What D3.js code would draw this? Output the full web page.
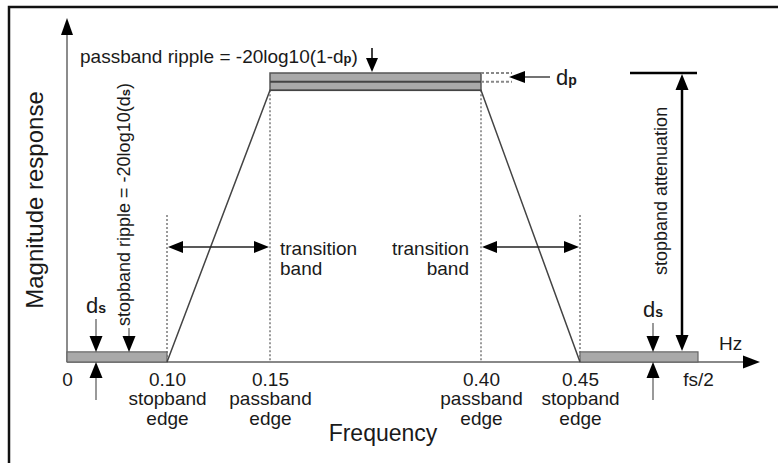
<!DOCTYPE html>
<html><head><meta charset="utf-8">
<script src="https://cdn.jsdelivr.net/npm/d3@7"></script>
<style>
body{margin:0;background:#fff}
text{font-family:"Liberation Sans",Arial,Helvetica,sans-serif;fill:#1a1a1a}
</style>
</head><body>
<svg id="chart" width="778" height="463"></svg>
<script>
// ---- data ----
const freqTicks   = [0, 0.10, 0.15, 0.40, 0.45, 0.50];
const tickLabels  = ["0", "0.10", "0.15", "0.40", "0.45", "fs/2"];
const edgeNames   = ["", "stopband", "passband", "passband", "stopband", ""];
const responseFreq = [0.10, 0.15, 0.40, 0.45];
const responseMag  = [0, 0.94, 0.94, 0];
const passband  = [0.15, 0.40];
const stopbands = [[0, 0.10], [0.45, 0.50]];
const transitionBands = [[0.10, 0.15], [0.40, 0.45]];
const dp = 0.03;
const ds = 0.035;

// ---- scales (schematic, piecewise frequency axis) ----
const svg = d3.select("#chart");
const x = d3.scaleLinear().domain(freqTicks).range([67, 167, 270, 481, 580, 698]);
const y = d3.scaleLinear().domain([0, 1]).range([362, 73]);

const FS = 19;   // horizontal labels
const FR = 18;   // rotated labels

function head(g, tx, ty, dir, len = 15, w = 12, col = "#000") {
  let pts;
  const h = w / 2;
  if (dir === "up")    pts = [[tx, ty], [tx - h, ty + len], [tx + h, ty + len]];
  if (dir === "down")  pts = [[tx, ty], [tx - h, ty - len], [tx + h, ty - len]];
  if (dir === "left")  pts = [[tx, ty], [tx + len, ty - h], [tx + len, ty + h]];
  if (dir === "right") pts = [[tx, ty], [tx - len, ty - h], [tx - len, ty + h]];
  g.append("polygon").attr("points", pts.map(p => p.join(",")).join(" ")).attr("fill", col);
}
function line(g, x1, y1, x2, y2, col, w, dash) {
  const l = g.append("line").attr("x1", x1).attr("y1", y1).attr("x2", x2).attr("y2", y2)
    .attr("stroke", col).attr("stroke-width", w);
  if (dash) l.attr("stroke-dasharray", dash);
  return l;
}

// frame
svg.append("path").attr("d", "M9,463 V7 H778").attr("fill", "none").attr("stroke", "#111").attr("stroke-width", 2.5);

const g = svg.append("g");

// dashed edge lines
[0.10, 0.45].forEach(f => line(g, x(f), 215, x(f), y(0), "#9a9a9a", 2, "2,2"));
[0.15, 0.40].forEach(f => line(g, x(f), y(1 - 2 * dp), x(f), y(0), "#9a9a9a", 2, "2,2"));

// x axis
line(g, x(0), y(0), 748, y(0), "#888", 2);
head(g, 760, y(0), "right", 17, 13);
// y axis
line(g, x(0), y(0), x(0), 32, "#666", 1.5);
head(g, x(0), 18, "up", 17, 12);

// stopband bands
stopbands.forEach(s => {
  g.append("rect").attr("x", x(s[0])).attr("y", y(ds)).attr("width", x(s[1]) - x(s[0])).attr("height", y(0) - y(ds))
    .attr("fill", "#a9a9a9").attr("stroke", "#666").attr("stroke-width", 1.2);
});
// passband band
g.append("rect").attr("x", x(passband[0])).attr("y", y(1)).attr("width", x(passband[1]) - x(passband[0]))
  .attr("height", y(1 - 2 * dp) - y(1)).attr("fill", "#a9a9a9").attr("stroke", "#555").attr("stroke-width", 1.5);
line(g, x(passband[0]), y(1 - dp), x(passband[1]), y(1 - dp), "#444", 2);

// response slopes
g.append("path").datum(responseFreq.map((f, i) => [f, responseMag[i]]))
  .attr("d", d3.line().x(d => x(d[0])).y(d => y(d[1])))
  .attr("fill", "none").attr("stroke", "#444").attr("stroke-width", 1.5);

// dp dotted extensions and arrow
line(g, x(passband[1]), y(1), 512, y(1), "#888", 2, "3,2");
line(g, x(passband[1]), y(1 - dp), 512, y(1 - dp), "#888", 2, "3,2");
line(g, 550, 77, 520, 77, "#444", 1.5);
head(g, 509, 77, "left", 16, 12);
g.append("text").attr("x", 556).attr("y", 85).attr("font-size", 22).text("d")
  .append("tspan").attr("font-size", 14).attr("font-weight", "bold").text("p");

// passband ripple text and arrow
g.append("text").attr("x", 80).attr("y", 63).attr("font-size", FS)
  .text("passband ripple = -20log10(1-d")
  .call(t => { t.append("tspan").attr("font-size", 13).attr("font-weight", "bold").text("p"); t.append("tspan").text(")"); });
line(g, 372, 48, 372, 62, "#000", 1.5);
head(g, 372, 72, "down", 14, 12);

// transition bands
transitionBands.forEach(b => {
  line(g, x(b[0]) + 14, 247, x(b[1]) - 14, 247, "#222", 1.5);
  head(g, x(b[0]) + 1, 247, "left", 15, 12);
  head(g, x(b[1]) - 1, 247, "right", 15, 12);
});
g.append("text").attr("x", 280).attr("y", 255).attr("font-size", FS).text("transition")
  .append("tspan").attr("x", 280).attr("dy", 20).text("band");
g.append("text").attr("x", 469).attr("y", 255).attr("font-size", FS).attr("text-anchor", "end").text("transition")
  .append("tspan").attr("x", 469).attr("dy", 20).text("band");

// stopband attenuation
line(g, 630, y(1), 697, y(1), "#000", 2.5);
line(g, 682, y(1) + 14, 682, y(ds) - 14, "#000", 2.5);
head(g, 682, y(1) + 1, "up", 16, 13);
head(g, 682, y(ds) - 1, "down", 16, 13);
g.append("text").attr("transform", "translate(667,275) rotate(-90)").attr("font-size", FR).text("stopband attenuation");

// ds arrows (left and right)
function dsMark(cx, labelY) {
  g.append("text").attr("x", cx).attr("y", labelY).attr("text-anchor", "middle").attr("font-size", 22)
    .text("d").append("tspan").attr("font-size", 14).attr("font-weight", "bold").text("s");
  line(g, cx, labelY + 6, cx, y(ds) - 12, "#777", 1.5);
  head(g, cx, y(ds), "down", 16, 13);
  line(g, cx, y(0) + 12, cx, 400, "#777", 1.5);
  head(g, cx, y(0), "up", 16, 13);
}
dsMark(96, 313);
dsMark(653, 317);

// stopband ripple
line(g, 129, 328, 129, y(ds) - 12, "#777", 1.5);
head(g, 129, y(ds), "down", 16, 13);
g.append("text").attr("transform", "translate(130,326) rotate(-90)").attr("font-size", FR)
  .text("stopband ripple = -20log10(d")
  .call(t => { t.append("tspan").attr("font-size", 13).attr("font-weight", "bold").text("s"); t.append("tspan").text(")"); });

// tick labels via axis (multi-line labels as tspans)
const axis = d3.axisBottom(x).tickValues(freqTicks).tickSize(0).tickPadding(11)
  .tickFormat((d, i) => tickLabels[i]);
const ax = svg.append("g").attr("transform", `translate(0,${y(0)})`).call(axis);
ax.select(".domain").remove();
ax.selectAll(".tick text").each(function(d, i) {
  const t = d3.select(this).attr("font-size", FS)
    .attr("font-family", '"Liberation Sans",Arial,sans-serif').attr("fill", "#1a1a1a");
  if (!edgeNames[i]) return;
  t.append("tspan").attr("x", 0).attr("dy", 19).text(edgeNames[i]);
  t.append("tspan").attr("x", 0).attr("dy", 20).text("edge");
});

// Hz
g.append("text").attr("x", 719).attr("y", 350).attr("font-size", 19).text("Hz");

// axis titles
g.append("text").attr("x", 383).attr("y", 441).attr("text-anchor", "middle").attr("font-size", 23).text("Frequency");
g.append("text").attr("transform", "translate(43,200) rotate(-90)").attr("text-anchor", "middle").attr("font-size", 24).text("Magnitude response");
</script>
</body></html>
